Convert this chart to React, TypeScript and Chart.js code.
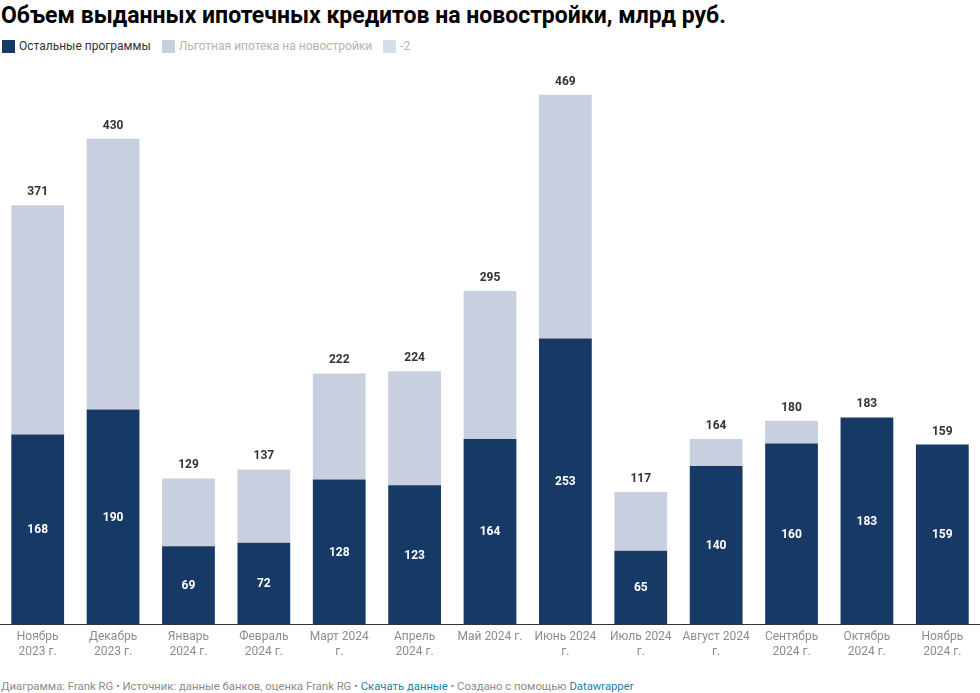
import React, { useEffect, useRef } from "react";
import { Chart, registerables } from "chart.js";

Chart.register(...registerables);

const categories: string[][] = [
  ["Ноябрь", "2023 г."],
  ["Декабрь", "2023 г."],
  ["Январь", "2024 г."],
  ["Февраль", "2024 г."],
  ["Март 2024", "г."],
  ["Апрель", "2024 г."],
  ["Май 2024 г."],
  ["Июнь 2024", "г."],
  ["Июль 2024", "г."],
  ["Август 2024", "г."],
  ["Сентябрь", "2024 г."],
  ["Октябрь", "2024 г."],
  ["Ноябрь", "2024 г."],
];
const totals = [371, 430, 129, 137, 222, 224, 295, 469, 117, 164, 180, 183, 159];
const otherPrograms = [168, 190, 69, 72, 128, 123, 164, 253, 65, 140, 160, 183, 159];
const preferential = totals.map((t, i) => t - otherPrograms[i]);

const seriesNames = ["Остальные программы", "Льготная ипотека на новостройки", "-2"];
const seriesColors = ["#173966", "#c8d0df", "#d6ddec"];
const legendTextColors = ["#333333", "#b3b3b3", "#b3b3b3"];

const FONT = "Roboto, 'Noto Sans', sans-serif";

const labelPlugin = {
  id: "barLabels",
  afterDatasetsDraw(chart: any) {
    const ctx = chart.ctx;
    const yScale = chart.scales.y;
    const meta0 = chart.getDatasetMeta(0);
    ctx.save();
    ctx.textAlign = "center";
    ctx.textBaseline = "middle";
    meta0.data.forEach((el: any, i: number) => {
      const x = el.x;
      const top = yScale.getPixelForValue(otherPrograms[i]);
      const base = yScale.getPixelForValue(0);
      ctx.font = `bold 12px ${FONT}`;
      ctx.fillStyle = "#ffffff";
      ctx.fillText(String(otherPrograms[i]), x, (top + base) / 2 + 1);
      const tTop = yScale.getPixelForValue(totals[i]);
      ctx.fillStyle = "#333333";
      ctx.fillText(String(totals[i]), x, tTop - 13);
    });
    ctx.restore();
  },
};

export default function App() {
  const ref = useRef<HTMLCanvasElement>(null);
  useEffect(() => {
    document.body.style.margin = "0";
    const chart = new Chart(ref.current!, {
      type: "bar",
      data: {
        labels: categories,
        datasets: [
          {
            label: seriesNames[0],
            data: otherPrograms,
            backgroundColor: seriesColors[0],
            barPercentage: 0.7,
            categoryPercentage: 1,
          },
          {
            label: seriesNames[1],
            data: preferential,
            backgroundColor: seriesColors[1],
            barPercentage: 0.7,
            categoryPercentage: 1,
          },
        ],
      },
      options: {
        animation: false,
        responsive: false,
        maintainAspectRatio: false,
        layout: { padding: { top: 9, left: 0, right: 0, bottom: 0 } },
        plugins: { legend: { display: false }, tooltip: { enabled: false } },
        scales: {
          x: {
            stacked: true,
            grid: { display: false, drawTicks: false },
            border: { display: true, color: "#333333", width: 1 },
            ticks: {
              color: "#8c8c8c",
              font: { family: FONT, size: 12, lineHeight: 1.25 },
              maxRotation: 0,
              autoSkip: false,
              padding: 5,
            },
          },
          y: {
            stacked: true,
            display: false,
            min: 0,
            max: 490,
          },
        },
      },
      plugins: [labelPlugin],
    });
    return () => chart.destroy();
  }, []);

  return (
    <div style={{ width: 980, height: 693, position: "relative", fontFamily: FONT, background: "#fff", overflow: "hidden" }}>
      <div style={{ position: "absolute", left: 1, top: 2, fontSize: 23, fontWeight: 700, color: "#000", whiteSpace: "nowrap" }}>
        Объем выданных ипотечных кредитов на новостройки, млрд руб.
      </div>
      <div style={{ position: "absolute", left: 2, top: 39, display: "flex", alignItems: "center", fontSize: 12 }}>
        {seriesNames.map((n, i) => (
          <div key={n} style={{ display: "flex", alignItems: "center", marginRight: 11 }}>
            <span style={{ display: "inline-block", width: 13, height: 13, background: seriesColors[i], marginRight: 4 }} />
            <span style={{ color: legendTextColors[i] }}>{n}</span>
          </div>
        ))}
      </div>
      <canvas ref={ref} width={980} height={602} style={{ position: "absolute", left: 0, top: 62, width: 980, height: 602 }} />
      <div style={{ position: "absolute", left: 1, top: 680, fontSize: 11.3, color: "#8c8c8c", whiteSpace: "nowrap" }}>
        Диаграмма: Frank RG • Источник: данные банков, оценка Frank RG •{" "}
        <span style={{ color: "#1d81a2" }}>Скачать данные</span> • Создано с помощью{" "}
        <span style={{ color: "#1d81a2" }}>Datawrapper</span>
      </div>
    </div>
  );
}
